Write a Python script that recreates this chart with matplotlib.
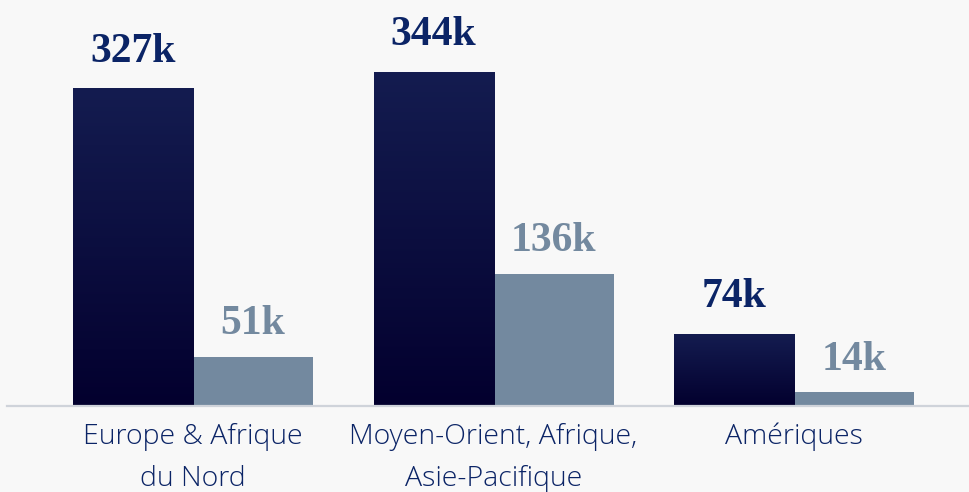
import numpy as np
import matplotlib.pyplot as plt
from matplotlib.colors import LinearSegmentedColormap

regions = ["Europe & Afrique\ndu Nord", "Moyen-Orient, Afrique,\nAsie-Pacifique", "Amériques"]
dark_vals = [327, 344, 74]
light_vals = [51, 136, 14]

bg = "#f8f8f8"
navy_text = "#0b2466"
light_col = "#73899f"
grad = LinearSegmentedColormap.from_list("g", ["#03002e", "#141c50"])

fig = plt.figure(figsize=(9.69, 4.92), dpi=100, facecolor=bg)
ax = fig.add_axes([7 / 969, 86 / 492, 962 / 969, 406 / 492], facecolor=bg)

x = np.arange(len(regions))
w = 0.3993

bars_d = ax.bar(x - w / 2, dark_vals, w, color="none", edgecolor="none")
bars_l = ax.bar(x + w / 2, light_vals, w, color=light_col, edgecolor="none")

g = np.linspace(0, 1, 256).reshape(-1, 1)
for b in bars_d:
    x0, h = b.get_x(), b.get_height()
    ax.imshow(g, extent=[x0, x0 + b.get_width(), 0, h], origin="lower",
              aspect="auto", cmap=grad, zorder=2)

for b, v in zip(bars_d, dark_vals):
    ax.annotate(f"{v}k", (b.get_x() + b.get_width() / 2, v), xytext=(0, 13),
                textcoords="offset points", ha="center", va="bottom",
                fontsize=30, fontweight="bold", family="Liberation Serif", color=navy_text)
for b, v in zip(bars_l, light_vals):
    ax.annotate(f"{v}k", (b.get_x() + b.get_width() / 2, v), xytext=(0, 10),
                textcoords="offset points", ha="center", va="bottom",
                fontsize=30, fontweight="bold", family="Liberation Serif", color=light_col)

ax.set_xlim(-0.619, 2.582)
ax.set_ylim(0, 406 / 0.97)
for s in ["top", "right", "left"]:
    ax.spines[s].set_visible(False)
ax.spines["bottom"].set_color("#cfd3da")
ax.spines["bottom"].set_linewidth(1.6)
ax.set_yticks([])
ax.set_xticks(x)
ax.set_xticklabels(regions, fontsize=20.5, family="Open Sans", fontweight=300,
                   color=navy_text, linespacing=1.7)
ax.tick_params(axis="x", length=0, pad=12)

fig.savefig("out.png", dpi=100, facecolor=bg)
